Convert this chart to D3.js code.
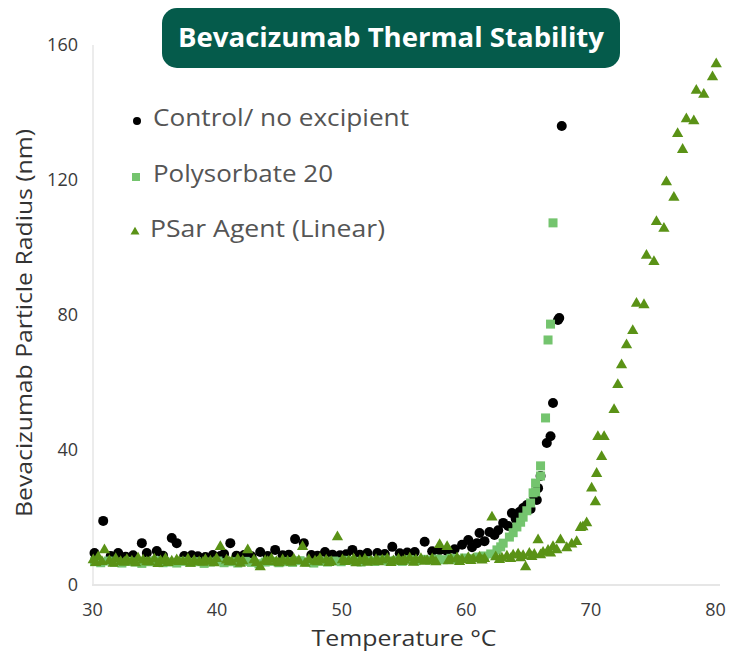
<!DOCTYPE html>
<html>
<head>
<meta charset="utf-8">
<script src="https://cdn.jsdelivr.net/npm/d3@7"></script>
<style>
  body { margin: 0; background: #fff; }
  text { font-family: "Open Sans", "Noto Sans", sans-serif; }
</style>
</head>
<body>
<div id="chart"></div>
<script>
// chart title and series names
var chartTitle = "Bevacizumab Thermal Stability";
var seriesNames = ["Control/ no excipient", "Polysorbate 20", "PSar Agent (Linear)"];
var xTicks = [30, 40, 50, 60, 70, 80];
var yTicks = [0, 40, 80, 120, 160];

// Control / no excipient  (temperature degC, radius nm)
var controlTemp = [30.2, 30.9, 31.5, 32.1, 32.7, 33.3, 34.0, 34.4, 35.2, 35.7, 36.4, 36.8, 37.4, 38.0, 38.5, 39.1, 39.7, 40.3, 40.6, 41.1,
  41.6, 42.2, 42.8, 43.5, 44.1, 44.7, 45.3, 45.8, 46.3, 47.0, 47.6, 48.1, 48.7, 49.3, 49.9, 50.4, 50.9, 51.5, 52.1, 52.9,
  53.5, 54.1, 54.7, 55.3, 55.9, 56.7, 57.3, 57.9, 58.5, 59.1, 59.7, 60.2, 60.5, 60.9, 61.1, 61.5, 61.9, 62.3, 62.6, 63.0,
  63.4, 63.7, 64.0, 64.3, 64.6, 64.9, 65.2, 65.5, 65.7, 65.8, 66.0, 66.5, 66.8, 67.0, 67.4, 67.5, 67.7];
var controlRadius = [9.5, 19.0, 8.6, 9.5, 8.4, 8.8, 12.4, 9.5, 10.1, 8.7, 13.9, 12.4, 8.6, 8.8, 8.5, 8.3, 8.9, 8.6, 9.2, 12.4,
  8.7, 8.9, 8.5, 9.8, 8.6, 10.4, 8.8, 9.0, 13.6, 12.4, 8.9, 8.7, 9.8, 9.0, 8.8, 9.1, 10.4, 9.0, 9.5, 9.5,
  9.2, 11.3, 9.4, 9.6, 9.8, 12.8, 10.0, 10.3, 10.1, 10.6, 11.9, 13.3, 11.2, 12.4, 15.4, 13.0, 15.7, 14.8, 16.2, 18.4,
  17.5, 21.3, 19.6, 21.6, 22.8, 23.7, 22.5, 26.0, 25.2, 28.7, 32.3, 42.1, 44.1, 53.9, 78.5, 79.1, 136.0];

// Polysorbate 20
var ps20Temp = [30.2, 30.7, 31.3, 31.8, 32.4, 32.9, 33.5, 34.0, 34.6, 35.1, 35.7, 36.2, 36.8, 37.3, 37.9, 38.4, 39.0, 39.5, 40.1, 40.6,
  41.2, 41.7, 42.3, 42.8, 43.4, 43.9, 44.5, 45.0, 45.6, 46.1, 46.7, 47.2, 47.8, 48.3, 48.9, 49.4, 50.0, 50.5, 51.1, 51.6,
  52.2, 52.7, 53.3, 53.8, 54.4, 54.9, 55.5, 56.0, 56.6, 57.1, 57.7, 58.2, 58.8, 59.3, 59.9, 60.4, 61.0, 61.5, 62.0, 62.5,
  62.8, 63.0, 63.5, 63.8, 64.1, 64.4, 64.6, 64.9, 65.2, 65.4, 65.6, 65.6, 66.0, 66.0, 66.4, 66.6, 66.8, 67.0];
var ps20Radius = [6.9, 6.6, 7.1, 6.7, 6.5, 7.0, 6.8, 6.4, 6.9, 7.2, 6.6, 6.8, 6.5, 7.0, 6.7, 6.9, 6.4, 6.8, 7.1, 6.6,
  6.9, 6.5, 7.0, 6.7, 6.3, 6.8, 7.0, 6.6, 6.9, 6.7, 7.2, 6.8, 6.5, 7.0, 6.8, 7.1, 6.9, 7.3, 7.0, 6.8,
  7.2, 7.0, 7.4, 7.1, 7.3, 7.0, 7.5, 7.2, 7.6, 7.4, 7.7, 7.5, 7.9, 7.6, 8.0, 7.8, 8.3, 8.6, 9.2, 10.4,
  11.3, 12.4, 14.2, 15.5, 17.2, 18.6, 20.1, 22.0, 24.3, 27.3, 27.6, 30.2, 32.3, 35.3, 49.5, 72.6, 77.3, 107.3];

// PSar Agent (Linear)
var psarTemp = [30.1, 30.5, 31.0, 31.4, 31.9, 32.3, 32.8, 33.2, 33.7, 34.1, 34.6, 35.0, 35.5, 35.9, 36.4, 36.8, 37.3, 37.7, 38.2, 38.6,
  39.1, 39.5, 40.0, 40.3, 40.8, 41.2, 41.7, 42.1, 42.5, 43.0, 43.5, 43.9, 44.4, 44.8, 45.3, 45.7, 46.2, 46.6, 46.9, 47.4,
  47.9, 48.3, 48.8, 49.2, 49.7, 50.1, 50.6, 51.0, 51.5, 51.9, 52.4, 52.8, 53.3, 53.7, 54.2, 54.6, 55.1, 55.5, 56.0, 56.4,
  56.9, 57.3, 57.9, 58.5, 58.8, 59.3, 59.7, 60.2, 60.6, 61.1, 61.5, 62.1, 62.4, 62.9, 63.3, 63.8, 64.2, 64.6, 64.8, 65.1,
  65.5, 65.8, 66.2, 66.6, 67.0, 67.3, 67.6, 68.1, 68.5, 68.9, 69.2, 69.4, 69.7, 70.1, 70.4, 70.5, 70.6, 70.9, 71.1, 71.9,
  72.2, 72.5, 72.9, 73.4, 73.7, 74.3, 74.5, 75.1, 75.3, 75.9, 76.1, 76.7, 77.0, 77.4, 77.7, 78.3, 78.5, 79.1, 79.8, 80.1,
  30.3, 30.8, 31.7, 32.6, 33.5, 34.4, 35.3, 36.1, 37.0, 37.9, 38.9, 39.8, 41.0, 41.9, 43.2, 44.1, 45.0, 46.0, 47.1, 48.1,
  49.0, 50.3, 51.2, 52.1, 53.0, 54.0, 54.9, 55.8, 56.7, 57.6, 58.6, 59.5, 60.4, 61.3, 62.7, 63.6, 64.4, 65.3, 66.0, 66.8];
var psarRadius = [7.4, 8.3, 10.4, 7.2, 7.8, 6.9, 7.5, 7.0, 7.9, 7.3, 6.8, 7.6, 7.1, 7.8, 7.0, 7.4, 6.9, 7.6, 7.2, 6.8,
  7.5, 7.0, 7.8, 11.3, 7.3, 6.9, 7.6, 7.1, 10.4, 7.4, 5.3, 7.2, 7.7, 6.9, 7.4, 7.0, 7.6, 7.2, 11.3, 7.5,
  7.0, 7.8, 7.3, 6.9, 14.2, 7.4, 7.1, 7.7, 7.2, 7.6, 7.0, 7.5, 7.3, 7.8, 7.1, 7.6, 7.3, 7.9, 7.4, 7.8,
  7.2, 7.7, 11.9, 11.3, 7.6, 8.0, 7.5, 8.1, 7.7, 8.2, 7.8, 20.1, 8.3, 7.9, 8.5, 8.8, 9.1, 8.7, 5.3, 9.3,
  9.0, 13.3, 9.6, 10.2, 11.3, 10.4, 13.3, 11.0, 12.1, 12.8, 17.0, 17.2, 18.4, 28.7, 24.6, 33.0, 43.9, 38.0, 43.9, 51.9,
  59.3, 65.2, 71.1, 75.3, 83.4, 83.0, 97.6, 95.8, 107.6, 105.6, 119.4, 114.8, 133.7, 129.0, 138.1, 137.5, 146.5, 145.3, 150.5, 154.4,
  6.6, 6.9, 6.4, 6.7, 6.5, 6.8, 6.3, 6.6, 6.9, 6.4, 6.7, 6.5, 6.8, 6.4, 6.6, 6.9, 6.5, 6.7, 6.4, 6.8,
  6.6, 6.9, 6.5, 6.7, 6.8, 6.6, 6.9, 6.7, 7.0, 6.8, 7.1, 6.9, 7.2, 7.3, 7.5, 7.8, 8.0, 8.4, 8.9, 9.4];

var W = 742, H = 657;
var colors = ["#000000", "#74c46e", "#5a9216"];

var svg = d3.select("#chart")
  .append("svg")
    .attr("width", W)
    .attr("height", H);

// scales
var x = d3.scaleLinear().domain([30, 80]).range([92, 715]);
var y = d3.scaleLinear().domain([0, 160]).range([585, 45]);

// faint axis lines
svg.append("line")
  .attr("x1", 92).attr("x2", 720)
  .attr("y1", y(0)).attr("y2", y(0))
  .attr("stroke", "#dedede").attr("stroke-width", 1.5);
svg.append("line")
  .attr("x1", 93).attr("x2", 93)
  .attr("y1", y(160)).attr("y2", y(0))
  .attr("stroke", "#e6e6e6").attr("stroke-width", 1.5);

// axes (labels only)
var xAxis = svg.append("g")
  .attr("transform", "translate(0,603)")
  .call(d3.axisBottom(x).tickValues(xTicks).tickSize(0).tickPadding(0));
var yAxis = svg.append("g")
  .attr("transform", "translate(82,0)")
  .call(d3.axisLeft(y).tickValues(yTicks).tickSize(0).tickPadding(4));
[xAxis, yAxis].forEach(function(a) {
  a.select(".domain").remove();
  a.selectAll("text")
    .attr("fill", "#3a3a3a")
    .style("font-size", "18px")
    .style("font-family", "'Open Sans', sans-serif");
});

// axis titles
svg.append("text")
  .attr("x", 404).attr("y", 646)
  .attr("text-anchor", "middle")
  .attr("fill", "#333")
  .attr("textLength", 185)
  .attr("lengthAdjust", "spacingAndGlyphs")
  .style("font-size", "22px")
  .text("Temperature °C");
svg.append("text")
  .attr("transform", "translate(32,323) rotate(-90)")
  .attr("text-anchor", "middle")
  .attr("fill", "#333")
  .attr("textLength", 388)
  .attr("lengthAdjust", "spacingAndGlyphs")
  .style("font-size", "21px")
  .text("Bevacizumab Particle Radius (nm)");

// markers
var tri = d3.symbol().type(d3.symbolTriangle);

var g = svg.append("g");
g.selectAll(".ctl")
  .data(d3.zip(controlTemp, controlRadius))
  .enter().append("circle")
    .attr("cx", function(d) { return x(d[0]); })
    .attr("cy", function(d) { return y(d[1]); })
    .attr("r", 5)
    .attr("fill", colors[0]);

g.selectAll(".ps20")
  .data(d3.zip(ps20Temp, ps20Radius))
  .enter().append("rect")
    .attr("x", function(d) { return x(d[0]) - 4.5; })
    .attr("y", function(d) { return y(d[1]) - 4.5; })
    .attr("width", 9).attr("height", 9)
    .attr("fill", colors[1]);

g.selectAll(".psar")
  .data(d3.zip(psarTemp, psarRadius))
  .enter().append("path")
    .attr("transform", function(d) { return "translate(" + x(d[0]) + "," + y(d[1]) + ")"; })
    .attr("d", tri.size(55)())
    .attr("fill", colors[2]);

// legend
var legend = svg.append("g");
var legY = [118, 174, 229];
var legLen = [256, 180, 235];
legend.append("circle").attr("cx", 137).attr("cy", legY[0] + 3).attr("r", 4).attr("fill", colors[0]);
legend.append("rect").attr("x", 132).attr("y", legY[1] - 1).attr("width", 8).attr("height", 8).attr("fill", colors[1]);
legend.append("path")
  .attr("transform", "translate(135," + (legY[2] + 3) + ")")
  .attr("d", d3.symbol().type(d3.symbolTriangle).size(35)())
  .attr("fill", colors[2]);
legend.selectAll(".lt")
  .data(seriesNames)
  .enter().append("text")
    .attr("x", function(d, i) { return i == 2 ? 150 : 153; })
    .attr("y", function(d, i) { return legY[i] + 8; })
    .attr("fill", "#555")
    .attr("textLength", function(d, i) { return legLen[i]; })
    .attr("lengthAdjust", "spacingAndGlyphs")
    .style("font-size", "23px")
    .text(function(d) { return d; });

// title box
svg.append("rect")
  .attr("x", 162).attr("y", 8)
  .attr("width", 458).attr("height", 60)
  .attr("rx", 15)
  .attr("fill", "#055b4b");
svg.append("text")
  .attr("x", 391).attr("y", 47)
  .attr("text-anchor", "middle")
  .attr("fill", "#fff")
  .attr("textLength", 426)
  .attr("lengthAdjust", "spacingAndGlyphs")
  .style("font-size", "26px")
  .style("font-weight", "bold")
  .text(chartTitle);
</script>
</body>
</html>
